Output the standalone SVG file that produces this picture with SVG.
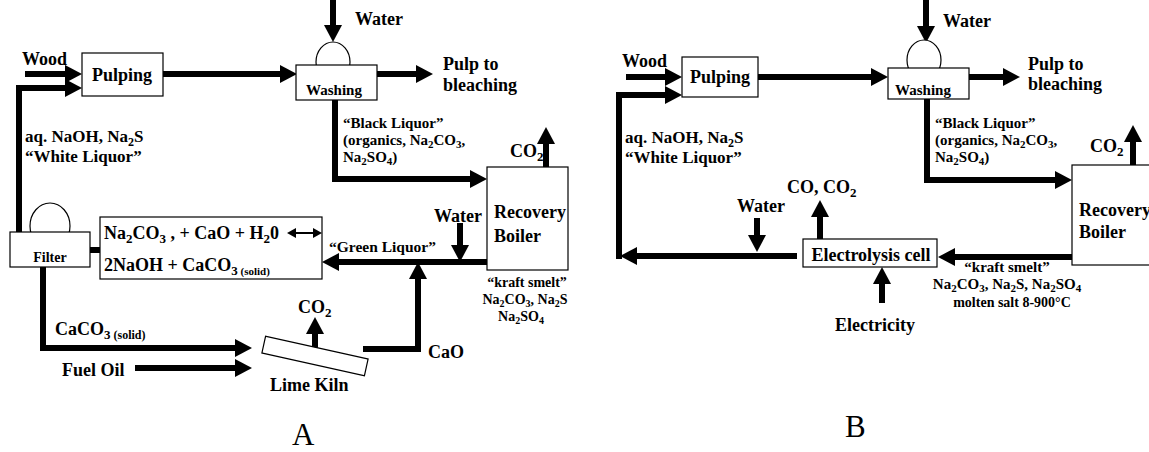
<svg xmlns="http://www.w3.org/2000/svg" width="1149" height="452" viewBox="0 0 1149 452">
<defs>
<style>
text{font-family:"Liberation Serif","Times New Roman",serif;font-weight:bold;fill:#000}
.s18{font-size:18px}
.s17{font-size:17px}
.s15{font-size:15px}
.s14{font-size:14px}
.mid{text-anchor:middle}
.lbl{font-weight:normal;font-size:31px}
.box{fill:#fff;stroke:#000;stroke-width:1.2}
.flow{fill:none;stroke:#000;stroke-width:6;stroke-linejoin:miter;stroke-linecap:butt}
.arr{marker-end:url(#ah)}
.thin{fill:none;stroke:#000;stroke-width:2}
</style>
<marker id="ah" markerUnits="userSpaceOnUse" markerWidth="17" markerHeight="18" refX="1" refY="9" orient="auto"><path d="M0,0 L17,9 L0,18 z" fill="#000"/></marker>
</defs>
<rect width="1149" height="452" fill="#fff"/>

<g id="connectors">
  <!-- A -->
  <path class="flow arr" d="M25,74 H66"/>
  <path class="flow arr" d="M19,232 V88 H66"/>
  <path class="flow arr" d="M163,74 H281"/>
  <path class="flow arr" d="M333,0 V26"/>
  <path class="flow arr" d="M377,74 H417"/>
  <path class="flow arr" d="M335,100 V179 H471"/>
  <path class="flow arr" d="M546,167 V143"/>
  <path class="flow arr" d="M487,262 H338"/>
  <path class="flow arr" d="M460,223 V246"/>
  <path class="flow arr" d="M363,349 H418 V278"/>
  <path class="flow" d="M90,250 H100"/>
  <path class="flow arr" d="M43,267 V348 H236"/>
  <path class="flow arr" d="M135,368 H236"/>
  <path class="flow arr" d="M315,360 V333"/>
  <!-- B -->
  <path class="flow arr" d="M626,77 H666"/>
  <path class="flow arr" d="M619,259 V95 H666"/>
  <path class="flow arr" d="M758,77 H872"/>
  <path class="flow arr" d="M926,0 V27"/>
  <path class="flow arr" d="M969,77 H1004"/>
  <path class="flow arr" d="M927,99 V180 H1056"/>
  <path class="flow arr" d="M1133,165 V141"/>
  <path class="flow arr" d="M1072,257 H954"/>
  <path class="flow arr" d="M797,256 H636"/>
  <path class="flow arr" d="M757,218 V236"/>
  <path class="flow arr" d="M820,239 V216"/>
  <path class="flow arr" d="M882,303 V283"/>
</g>

<!-- ===== Diagram A ===== -->
<g id="a-wood"><text x="22" y="65" class="s18">Wood</text></g>
<g id="a-pulping"><rect class="box" x="82" y="53" width="81" height="43"/><text x="122" y="81" class="s18 mid">Pulping</text></g>
<g id="a-washing"><ellipse class="box" cx="333" cy="62" rx="17" ry="20"/><rect class="box" x="296" y="65" width="81" height="35"/><text x="334" y="95" class="s15 mid">Washing</text></g>
<g id="a-water-top"><text x="355" y="25" class="s18">Water</text></g>
<g id="a-pulp"><text x="443" y="70" class="s18">Pulp to</text><text x="443" y="91" class="s18">bleaching</text></g>
<g id="a-black">
  <text x="343" y="128" class="s15">“Black Liquor”</text>
  <text x="343" y="145" class="s15">(organics, Na<tspan font-size="11" dy="3">2</tspan><tspan dy="-3">CO</tspan><tspan font-size="11" dy="3">3</tspan><tspan dy="-3">,</tspan></text>
  <text x="343" y="162" class="s15">Na<tspan font-size="11" dy="3">2</tspan><tspan dy="-3">SO</tspan><tspan font-size="11" dy="3">4</tspan><tspan dy="-3">)</tspan></text>
</g>
<g id="a-boiler"><rect class="box" x="487" y="167" width="81" height="103"/><text x="494" y="218" class="s18">Recovery</text><text x="494" y="242" class="s18">Boiler</text></g>
<g id="a-co2-boiler"><text x="510" y="157" class="s18">CO<tspan font-size="13" dy="4">2</tspan></text></g>
<g id="a-whiteliquor"><text x="25" y="142" class="s17">aq. NaOH, Na<tspan font-size="12" dy="4">2</tspan><tspan dy="-4">S</tspan></text><text x="25" y="162" class="s17">“White Liquor”</text></g>
<g id="a-filter"><ellipse class="box" cx="50" cy="226" rx="20" ry="23"/><rect class="box" x="10" y="232" width="80" height="35"/><text x="50" y="262" class="s14 mid">Filter</text></g>
<g id="a-equation"><rect class="box" x="100" y="217" width="222" height="62"/>
  <text x="104" y="239" class="s18">Na<tspan font-size="13" dy="4">2</tspan><tspan dy="-4">CO</tspan><tspan font-size="13" dy="4">3</tspan><tspan dy="-4"> , + CaO + H</tspan><tspan font-size="13" dy="4">2</tspan><tspan dy="-4">0</tspan></text>
  <text x="104" y="271" class="s18">2NaOH + CaCO<tspan font-size="13" dy="4">3</tspan><tspan font-size="11"> (solid)</tspan></text>
  <path class="thin" d="M294,233 H315"/>
  <path d="M287,233 L296,228 L296,238 z" fill="#000"/>
  <path d="M322,233 L313,228 L313,238 z" fill="#000"/>
</g>
<g id="a-green"><text x="329" y="252" style="font-size:15.5px">“Green Liquor”</text></g>
<g id="a-water-mid"><text x="434" y="222" class="s18">Water</text></g>
<g id="a-smelt">
  <text x="527" y="287" class="s14 mid">“kraft smelt”</text>
  <text x="525" y="304" class="s14 mid">Na<tspan font-size="10" dy="3">2</tspan><tspan dy="-3">CO</tspan><tspan font-size="10" dy="3">3</tspan><tspan dy="-3">, Na</tspan><tspan font-size="10" dy="3">2</tspan><tspan dy="-3">S</tspan></text>
  <text x="521" y="321" class="s14 mid">Na<tspan font-size="10" dy="3">2</tspan><tspan dy="-3">SO</tspan><tspan font-size="10" dy="3">4</tspan></text>
</g>
<g id="a-caco3"><text x="55" y="335" class="s18">CaCO<tspan font-size="13" dy="4">3</tspan><tspan font-size="12"> (solid)</tspan></text></g>
<g id="a-fuel"><text x="62" y="376" class="s18">Fuel Oil</text></g>
<g id="a-kiln"><rect class="box" x="262.5" y="347.5" width="105" height="17" transform="rotate(12.5 315 356)"/><text x="270" y="391" class="s18">Lime Kiln</text></g>
<g id="a-co2-kiln"><text x="298" y="313" class="s18">CO<tspan font-size="13" dy="4">2</tspan></text></g>
<g id="a-cao"><text x="428" y="358" class="s18">CaO</text></g>
<g id="label-a"><text x="292" y="445" class="lbl">A</text></g>

<!-- ===== Diagram B ===== -->
<g id="b-wood"><text x="622" y="67" class="s18">Wood</text></g>
<g id="b-pulping"><rect class="box" x="682" y="57" width="76" height="40"/><text x="720" y="83" class="s18 mid">Pulping</text></g>
<g id="b-washing"><ellipse class="box" cx="924" cy="60" rx="17" ry="20"/><rect class="box" x="888" y="68" width="81" height="31"/><text x="923" y="95" class="s15 mid">Washing</text></g>
<g id="b-water-top"><text x="943" y="27" class="s18">Water</text></g>
<g id="b-pulp"><text x="1028" y="70" class="s18">Pulp to</text><text x="1028" y="90" class="s18">bleaching</text></g>
<g id="b-black">
  <text x="935" y="128" class="s15">“Black Liquor”</text>
  <text x="935" y="145" class="s15">(organics, Na<tspan font-size="11" dy="3">2</tspan><tspan dy="-3">CO</tspan><tspan font-size="11" dy="3">3</tspan><tspan dy="-3">,</tspan></text>
  <text x="935" y="162" class="s15">Na<tspan font-size="11" dy="3">2</tspan><tspan dy="-3">SO</tspan><tspan font-size="11" dy="3">4</tspan><tspan dy="-3">)</tspan></text>
</g>
<g id="b-co2-boiler"><text x="1090" y="152" class="s18">CO<tspan font-size="13" dy="4">2</tspan></text></g>
<g id="b-boiler"><rect class="box" x="1072" y="165" width="90" height="100"/><text x="1079" y="216" class="s18">Recovery</text><text x="1079" y="238" class="s18">Boiler</text></g>
<g id="b-whiteliquor"><text x="625" y="143" class="s17">aq. NaOH, Na<tspan font-size="12" dy="4">2</tspan><tspan dy="-4">S</tspan></text><text x="625" y="163" class="s17">“White Liquor”</text></g>
<g id="b-electrolysis"><rect class="box" x="803" y="239" width="134" height="28"/><text x="871" y="261" class="s18 mid">Electrolysis cell</text></g>
<g id="b-smelt">
  <text x="1007" y="272" class="s15 mid">“kraft smelt”</text>
  <text x="1007" y="289" class="s15 mid">Na<tspan font-size="11" dy="3">2</tspan><tspan dy="-3">CO</tspan><tspan font-size="11" dy="3">3</tspan><tspan dy="-3">, Na</tspan><tspan font-size="11" dy="3">2</tspan><tspan dy="-3">S, Na</tspan><tspan font-size="11" dy="3">2</tspan><tspan dy="-3">SO</tspan><tspan font-size="11" dy="3">4</tspan></text>
  <text x="1012" y="307" class="s14 mid">molten salt 8-900°C</text>
</g>
<g id="b-water-mid"><text x="737" y="212" class="s18">Water</text></g>
<g id="b-co"><text x="787" y="193" class="s18">CO, CO<tspan font-size="13" dy="4">2</tspan></text></g>
<g id="b-electricity"><text x="835" y="331" class="s18">Electricity</text></g>
<g id="label-b"><text x="845" y="437" class="lbl">B</text></g>
</svg>
